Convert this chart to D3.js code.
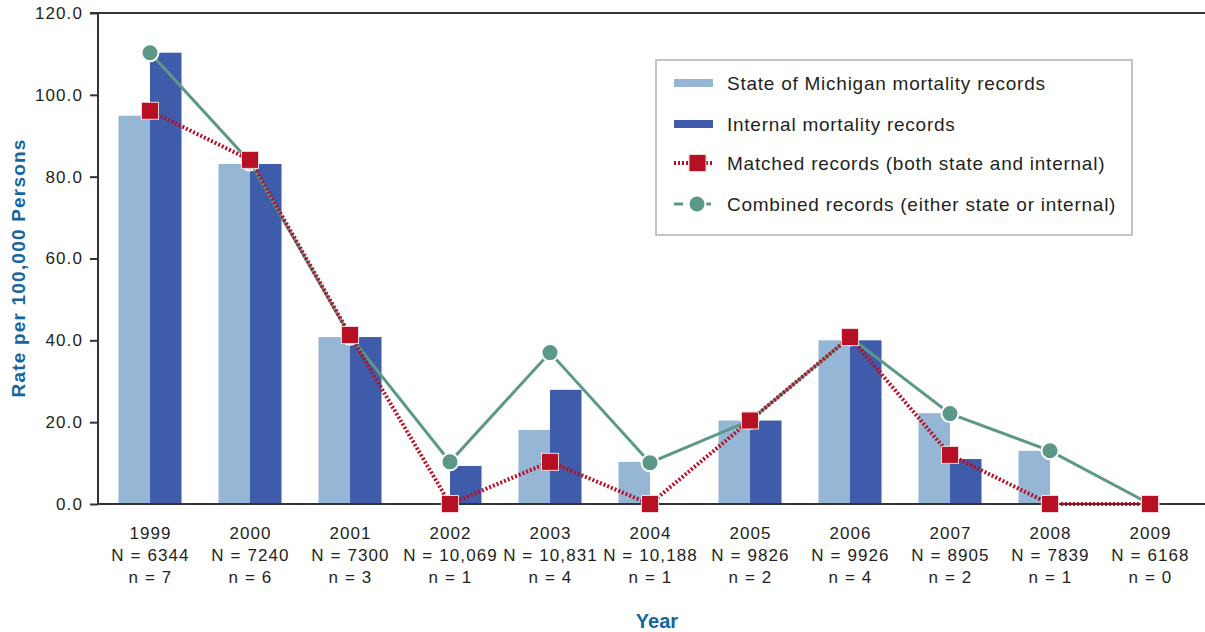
<!DOCTYPE html>
<html>
<head>
<meta charset="utf-8">
<script src="https://cdn.jsdelivr.net/npm/d3@7"></script>
<style>
  body { margin: 0; background: #fff; }
  svg text { font-family: "Liberation Sans", Arial, sans-serif; }
</style>
</head>
<body>
<div id="chart"></div>
<script>
// chart data
var years = ["1999", "2000", "2001", "2002", "2003", "2004", "2005", "2006", "2007", "2008", "2009"];
var bigN = ["6344", "7240", "7300", "10,069", "10,831", "10,188", "9826", "9926", "8905", "7839", "6168"];
var smallN = ["7", "6", "3", "1", "4", "1", "2", "4", "2", "1", "0"];
var stateRate = [94.9, 83.1, 40.8, 0, 18.1, 10.3, 20.4, 40.0, 22.2, 13.0, 0];
var internalRate = [110.3, 83.1, 40.8, 9.3, 27.9, 0, 20.4, 40.0, 11.0, 0, 0];
var matchedRate = [96.1, 84.1, 41.3, 0, 10.3, 0, 20.4, 40.8, 12.0, 0, 0];
var combinedRate = [110.3, 83.6, 41.0, 10.3, 37.0, 10.1, 20.4, 40.8, 22.1, 13.0, 0];
var yTicks = [0, 20, 40, 60, 80, 100, 120];

var W = 1205, H = 632;
var margin = { top: 13, right: 5, bottom: 128, left: 98 };

var colState = "#96b6d6", colInternal = "#3e5ca9", colMatched = "#b70f24", colCombined = "#5c9888";
var axisBlue = "#15659e", textCol = "#231f20";

var svg = d3.select("#chart").append("svg")
    .attr("width", W)
    .attr("height", H);

var x = d3.scaleBand()
    .domain(years)
    .range([100, 1200])
    .padding(0);

var y = d3.scaleLinear()
    .domain([0, 120])
    .range([H - margin.bottom, margin.top]);

var barW = 31.5;

var rows = years.map(function(yr, i) {
  return { year: yr, state: stateRate[i], internal: internalRate[i], matched: matchedRate[i], combined: combinedRate[i] };
});

// bars
svg.selectAll(".bar-state").data(rows).enter().append("rect")
    .attr("class", "bar-state")
    .attr("x", function(d) { return x(d.year) + x.bandwidth() / 2 - barW; })
    .attr("y", function(d) { return y(d.state); })
    .attr("width", barW)
    .attr("height", function(d) { return y(0) - y(d.state); })
    .attr("fill", colState);

svg.selectAll(".bar-int").data(rows).enter().append("rect")
    .attr("class", "bar-int")
    .attr("x", function(d) { return x(d.year) + x.bandwidth() / 2; })
    .attr("y", function(d) { return y(d.internal); })
    .attr("width", barW)
    .attr("height", function(d) { return y(0) - y(d.internal); })
    .attr("fill", colInternal);

// axes
var yAxis = d3.axisLeft(y).tickValues(yTicks).tickSize(8).tickFormat(d3.format(".1f"));
var gy = svg.append("g")
    .attr("transform", "translate(" + margin.left + ",0)")
    .call(yAxis);
gy.select(".domain").remove();
gy.selectAll(".tick line").attr("stroke", "#333").attr("stroke-width", 2);
gy.selectAll(".tick text")
    .attr("x", -15)
    .attr("font-size", 17)
    .attr("letter-spacing", 1.1)
    .attr("fill", textCol);

svg.append("line")
    .attr("x1", margin.left).attr("x2", margin.left)
    .attr("y1", y(120) - 1).attr("y2", y(0) + 1)
    .attr("stroke", "#333").attr("stroke-width", 2);
svg.append("line")
    .attr("x1", margin.left - 1).attr("x2", W)
    .attr("y1", y(0)).attr("y2", y(0))
    .attr("stroke", "#333").attr("stroke-width", 2);
svg.append("line")
    .attr("x1", margin.left - 8).attr("x2", W)
    .attr("y1", y(120)).attr("y2", y(120))
    .attr("stroke", "#333").attr("stroke-width", 2);

// x labels (three lines)
var xl = svg.selectAll(".xlab").data(rows).enter().append("text")
    .attr("class", "xlab")
    .attr("text-anchor", "middle")
    .attr("font-size", 17)
    .attr("letter-spacing", 1.1)
    .attr("fill", textCol);
xl.append("tspan")
    .attr("x", function(d) { return x(d.year) + x.bandwidth() / 2 + 0.5; })
    .attr("y", y(0) + 35)
    .text(function(d) { return d.year; });
xl.append("tspan")
    .attr("x", function(d) { return x(d.year) + x.bandwidth() / 2 + 0.5; })
    .attr("y", y(0) + 57)
    .text(function(d, i) { return "N = " + bigN[i]; });
xl.append("tspan")
    .attr("x", function(d) { return x(d.year) + x.bandwidth() / 2 + 0.5; })
    .attr("y", y(0) + 79)
    .text(function(d, i) { return "n = " + smallN[i]; });

// axis titles
svg.append("text")
    .attr("transform", "translate(25,268) rotate(-90)")
    .attr("text-anchor", "middle")
    .attr("font-size", 19)
    .attr("font-weight", "bold")
    .attr("letter-spacing", 1.2)
    .attr("fill", axisBlue)
    .text("Rate per 100,000 Persons");

svg.append("text")
    .attr("x", 657)
    .attr("y", 628)
    .attr("text-anchor", "middle")
    .attr("font-size", 20)
    .attr("font-weight", "bold")
    .attr("fill", axisBlue)
    .text("Year");

// lines
var cx = function(d) { return x(d.year) + x.bandwidth() / 2; };

var combLine = d3.line().x(cx).y(function(d) { return y(d.combined); });
svg.append("path")
    .datum(rows)
    .attr("d", combLine)
    .attr("fill", "none")
    .attr("stroke", colCombined)
    .attr("stroke-width", 3);
svg.selectAll(".comb-pt").data(rows).enter().append("circle")
    .attr("class", "comb-pt")
    .attr("cx", cx)
    .attr("cy", function(d) { return y(d.combined); })
    .attr("r", 8.5)
    .attr("fill", colCombined)
    .attr("stroke", "#fff")
    .attr("stroke-width", 2);

var matchLine = d3.line().x(cx).y(function(d) { return y(d.matched); });
svg.append("path")
    .datum(rows)
    .attr("d", matchLine)
    .attr("fill", "none")
    .attr("stroke", colMatched)
    .attr("stroke-width", 4)
    .attr("stroke-dasharray", "2,2");
svg.selectAll(".match-pt").data(rows).enter().append("rect")
    .attr("class", "match-pt")
    .attr("x", function(d) { return cx(d) - 8.5; })
    .attr("y", function(d) { return y(d.matched) - 8.5; })
    .attr("width", 17)
    .attr("height", 17)
    .attr("fill", colMatched)
    .attr("stroke", "#f3d6d8")
    .attr("stroke-width", 1);

// legend
var leg = svg.append("g").attr("transform", "translate(656,60)");
leg.append("rect")
    .attr("width", 476).attr("height", 175)
    .attr("fill", "#fff")
    .attr("stroke", "#c4c4c4")
    .attr("stroke-width", 2);

var legItems = [
  { label: "State of Michigan mortality records", type: "bar", color: colState },
  { label: "Internal mortality records", type: "bar", color: colInternal },
  { label: "Matched records (both state and internal)", type: "match", color: colMatched },
  { label: "Combined records (either state or internal)", type: "comb", color: colCombined }
];
var legRowY = [23, 64, 103, 144];

legItems.forEach(function(it, i) {
  var g = leg.append("g").attr("transform", "translate(0," + legRowY[i] + ")");
  if (it.type === "bar") {
    g.append("rect").attr("x", 18).attr("y", -4).attr("width", 39).attr("height", 8).attr("fill", it.color);
  } else if (it.type === "match") {
    g.append("line").attr("x1", 18).attr("x2", 57).attr("y1", 0).attr("y2", 0)
        .attr("stroke", it.color).attr("stroke-width", 4).attr("stroke-dasharray", "2,2");
    g.append("rect").attr("x", 33).attr("y", -8.5).attr("width", 17).attr("height", 17)
        .attr("fill", it.color).attr("stroke", "#f3d6d8").attr("stroke-width", 1);
  } else {
    g.append("line").attr("x1", 18).attr("x2", 57).attr("y1", 0).attr("y2", 0)
        .attr("stroke", it.color).attr("stroke-width", 3).attr("stroke-dasharray", "9,5");
    g.append("circle").attr("cx", 41).attr("cy", 0).attr("r", 8.5)
        .attr("fill", it.color).attr("stroke", "#fff").attr("stroke-width", 2);
  }
  g.append("text")
      .attr("x", 71).attr("y", 6.5)
      .attr("font-size", 19)
      .attr("letter-spacing", 0.75)
      .attr("fill", textCol)
      .text(it.label);
});
</script>
</body>
</html>
